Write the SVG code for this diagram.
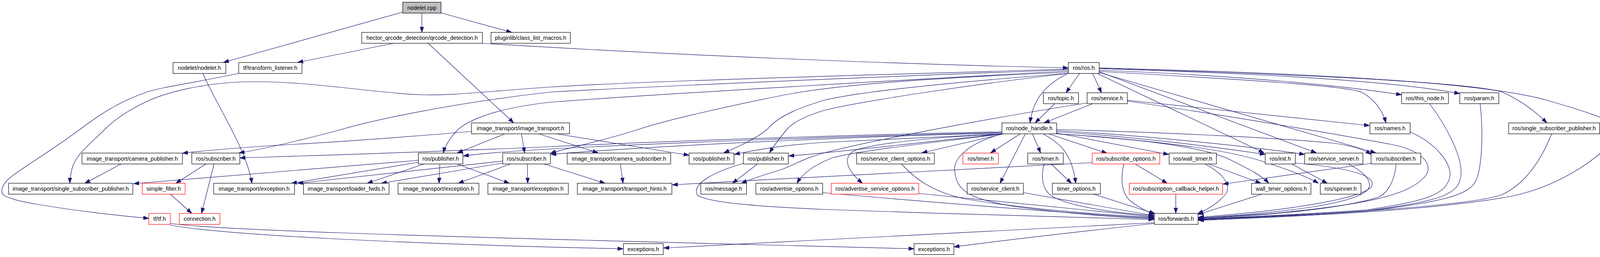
<svg xmlns="http://www.w3.org/2000/svg" width="4226" height="659" viewBox="0 0 4226 659">
<style>
html,body{margin:0;padding:0;overflow:hidden}
svg{display:block;overflow:hidden}
.n rect{fill:#fff;stroke:#000;stroke-width:1.2}
.n.r rect{stroke:#f00}
.n.root rect{fill:#bfbfbf}
.n text{font-family:"Liberation Sans",Arial,Helvetica,sans-serif;font-size:14.4px;text-anchor:middle;fill:#000}
#edges path{fill:none;stroke:#191970;stroke-width:1.2;marker-end:url(#a)}
</style>
<defs>
<marker id="a" markerWidth="15" markerHeight="11" refX="14" refY="5.5" orient="auto" markerUnits="userSpaceOnUse">
<path d="M0,0.7 L14,5.5 L0,10.3 z" fill="#191970" stroke="#191970" stroke-width="1"/>
</marker>
</defs>
<rect width="4226" height="659" fill="#fff"/>
<g id="edges">
<path d="M1031,31 L572,160"/>
<path d="M1080,34 L1080,83"/>
<path d="M1129,33 L1310,83"/>
<path d="M1008,111 L762,160"/>
<path d="M1096,111 L1315,315"/>
<path d="M1235,111 C1700,140 2300,165 2735,174"/>
<path d="M519,188 C560,280 630,380 645,470"/>
<path d="M611,188 C500,212 420,222 376,236 C300,262 250,298 207,330 C120,395 40,440 18,463 C0,482 2,498 14,503 C40,515 70,519 90,523 C200,542 300,552 381,560"/>
<path d="M2735,177 C2400,188 1700,205 1410,223 C1250,234 1150,246 1076,243 C950,238 780,205 620,210 C520,214 430,235 376,260 C330,282 295,305 270,330 C230,370 195,395 185,430 C180,450 179,460 179,470"/>
<path d="M2735,179 C2300,195 1800,215 1410,236 C1150,265 950,310 881,330 C800,352 700,378 612,392"/>
<path d="M2735,182 C2400,200 1700,240 1410,262 C1290,275 1212,300 1175,330 C1155,350 1140,370 1135,392"/>
<path d="M2735,185 C2400,200 2150,215 2000,245 C1850,275 1700,310 1640,330 C1550,360 1450,380 1409,393"/>
<path d="M2736,188 C2450,210 2200,235 2110,257 C2040,278 1990,300 1966,330 C1930,360 1880,380 1853,392"/>
<path d="M2737,188 C2500,215 2200,260 2110,283 C2060,298 2030,315 2016,330 C1995,355 1980,375 1970,392"/>
<path d="M2764,188 L2729,238"/>
<path d="M2736,187 C2680,215 2645,250 2637,315"/>
<path d="M2797,188 L2820,238"/>
<path d="M2700,266 L2650,315"/>
<path d="M2797,266 L2673,315"/>
<path d="M2783,264 C2600,292 2250,355 2110,392 C2060,405 2040,420 2000,435 C1950,450 1920,460 1898,470"/>
<path d="M2886,257 L3506,322"/>
<path d="M2886,259 C3100,290 3400,340 3560,370 C3640,385 3670,420 3650,450 C3610,500 3500,525 3250,548 C3150,555 3100,558 3068,560"/>
<path d="M2808,188 L3236,392"/>
<path d="M2814,184 L3370,392"/>
<path d="M2814,186 L3522,392"/>
<path d="M2814,180 C3200,195 3450,222 3588,243"/>
<path d="M2814,176 C3200,188 3550,205 3737,240"/>
<path d="M2814,175 C3300,190 3750,210 3843,235 C3890,255 3930,285 3960,315"/>
<path d="M2814,174 C3350,188 3800,210 3963,258 C4040,280 4100,300 4130,315"/>
<path d="M2814,183 C3200,205 3440,220 3485,236 C3520,255 3540,285 3548,315"/>
<path d="M2565,338 C2200,345 1700,362 1410,376 C1100,390 800,399 614,405"/>
<path d="M2565,340 C2200,348 1700,366 1410,382 C1300,388 1230,394 1186,400"/>
<path d="M2565,341 C2200,350 1700,372 1410,396"/>
<path d="M2565,343 C2400,352 2200,360 2110,365 C2000,372 1930,385 1880,396"/>
<path d="M2567,343 C2400,360 2200,385 2019,400"/>
<path d="M2570,343 C2400,365 2200,385 2130,405 C2080,425 2055,445 2040,470"/>
<path d="M2575,343 C2400,352 2250,365 2190,385 C2160,400 2160,430 2208,470"/>
<path d="M2570,343 L2360,392"/>
<path d="M2612,343 L2536,392"/>
<path d="M2625,343 L2560,470"/>
<path d="M2643,343 L2664,392"/>
<path d="M2670,343 C2720,370 2745,400 2754,470"/>
<path d="M2684,343 L2834,393"/>
<path d="M2705,341 L2992,396"/>
<path d="M2566,343 C2470,370 2440,410 2444,440 C2450,490 2480,510 2600,530 C2750,550 2880,558 2954,561"/>
<path d="M2705,332 C3000,340 3300,355 3420,368 C3460,374 3490,382 3510,396"/>
<path d="M2705,335 C2900,345 3200,375 3340,396"/>
<path d="M2705,338 C2900,350 3100,375 3239,396"/>
<path d="M2705,343 C2900,355 3080,375 3150,410 C3200,435 3230,450 3248,470"/>
<path d="M2705,343 C2950,360 3120,380 3220,410 C3300,435 3350,455 3375,470"/>
<path d="M310,420.5 L217,470"/>
<path d="M527,420.5 L450,470"/>
<path d="M548,420.5 L516,547"/>
<path d="M436,498 L491,547"/>
<path d="M1071,411 L342,471"/>
<path d="M1071,416 L746,470"/>
<path d="M1085,420.5 L940,470"/>
<path d="M1126,420.5 L1124,470"/>
<path d="M1170,420.5 L1304,470"/>
<path d="M1287,413 L762,470"/>
<path d="M1287,418 L976,470"/>
<path d="M1307,420.5 L1173,470"/>
<path d="M1350,420.5 L1351,470"/>
<path d="M1393,420.5 L1549,470"/>
<path d="M1588,420.5 L1595,470"/>
<path d="M1207,337 C1000,355 800,368 700,373 C600,380 520,386 467,393"/>
<path d="M1293,343 L1171,392"/>
<path d="M1335,343 L1343,392"/>
<path d="M1379,343 L1531,392"/>
<path d="M1423,343 L1764,398"/>
<path d="M1939,420.5 L1875,470"/>
<path d="M1903,419 C1830,440 1770,470 1785,500 C1810,520 1950,530 2110,537 C2400,548 2800,558 2954,563"/>
<path d="M2796,417 C2500,435 2100,452 1721,474"/>
<path d="M2106,494 C2400,520 2800,552 2954,559"/>
<path d="M2352,496 C2600,520 2850,545 2954,556"/>
<path d="M2308,421 C2340,455 2380,490 2470,510 C2650,540 2850,552 2954,557"/>
<path d="M2620,494 L2954,553"/>
<path d="M2800,498 L2957,548"/>
<path d="M2691,420.5 L2743,470"/>
<path d="M2673,420.5 C2665,450 2665,490 2700,507 C2760,535 2880,548 2955,553"/>
<path d="M2906,420.5 L2988,470"/>
<path d="M2877,420.5 C2868,460 2870,500 2900,520 C2915,530 2930,540 2955,550"/>
<path d="M3010,498 L3010,547"/>
<path d="M3094,420.5 L3228,470"/>
<path d="M3085,420.5 C3130,445 3150,470 3140,495 C3120,520 3095,535 3066,548"/>
<path d="M3230,498 L3067,550"/>
<path d="M3510,419 L3131,472"/>
<path d="M3307,420.5 L3398,470"/>
<path d="M3316,418 C3450,430 3530,450 3510,480 C3480,510 3300,540 3068,557"/>
<path d="M3452,420.5 C3490,440 3510,460 3505,480 C3490,520 3300,545 3068,559"/>
<path d="M3574,420.5 C3572,450 3560,490 3530,505 C3420,540 3200,555 3068,559"/>
<path d="M3610,338 C3680,370 3715,420 3712,450 C3705,500 3650,515 3500,538 C3300,552 3150,558 3068,561"/>
<path d="M3660,266 C3700,320 3745,400 3740,450 C3735,495 3700,515 3500,540 C3300,554 3150,559 3068,562"/>
<path d="M3789,266 C3797,330 3795,420 3780,460 C3765,495 3720,515 3500,541 C3300,556 3150,560 3068,563"/>
<path d="M3972,343 C3950,400 3910,470 3843,500 C3750,530 3400,548 3068,564"/>
<path d="M4150,343 C4080,420 3980,480 3870,503 C3700,535 3400,552 3068,565"/>
<path d="M2955,571 C2700,585 2200,610 1699,636"/>
<path d="M2955,573 C2800,590 2600,612 2442,633"/>
<path d="M436,577 C550,600 1000,625 1595,638"/>
<path d="M436,573 C560,590 1100,605 1500,616 C1900,627 2200,633 2340,638"/>
</g>
<g id="n0" class="n root"><rect x="1031" y="5.7" width="98" height="28"/><text x="1080" y="24.7">nodelet.cpp</text></g>
<g id="n1" class="n"><rect x="926" y="83" width="309" height="28"/><text x="1080.5" y="102">hector_qrcode_detection/qrcode_detection.h</text></g>
<g id="n2" class="n"><rect x="1257" y="83" width="203" height="28"/><text x="1358.5" y="102">pluginlib/class_list_macros.h</text></g>
<g id="n3" class="n"><rect x="443" y="160.4" width="135" height="28"/><text x="510.5" y="179.4">nodelet/nodelet.h</text></g>
<g id="n4" class="n"><rect x="611" y="160.4" width="162" height="28"/><text x="692" y="179.4">tf/transform_listener.h</text></g>
<g id="n5" class="n"><rect x="2735" y="160.4" width="79" height="28"/><text x="2774.5" y="179.4">ros/ros.h</text></g>
<g id="n6" class="n"><rect x="2671" y="237.8" width="90" height="28"/><text x="2716" y="256.8">ros/topic.h</text></g>
<g id="n7" class="n"><rect x="2783" y="237.8" width="103" height="28"/><text x="2834.5" y="256.8">ros/service.h</text></g>
<g id="n8" class="n"><rect x="3588" y="237.8" width="120" height="28"/><text x="3648" y="256.8">ros/this_node.h</text></g>
<g id="n9" class="n"><rect x="3737" y="237.8" width="100" height="28"/><text x="3787" y="256.8">ros/param.h</text></g>
<g id="n10" class="n"><rect x="1207" y="315.2" width="251" height="28"/><text x="1332.5" y="334.2">image_transport/image_transport.h</text></g>
<g id="n11" class="n"><rect x="2565" y="315.2" width="140" height="28"/><text x="2635" y="334.2">ros/node_handle.h</text></g>
<g id="n12" class="n"><rect x="3507" y="315.2" width="103" height="28"/><text x="3558.5" y="334.2">ros/names.h</text></g>
<g id="n13" class="n"><rect x="3862" y="315.2" width="233" height="28"/><text x="3978.5" y="334.2">ros/single_subscriber_publisher.h</text></g>
<g id="n14" class="n"><rect x="4116" y="315.2" width="103" height="28"/><text x="4167.5" y="334.2">ros/master.h</text></g>
<g id="n15" class="n"><rect x="210" y="392.5" width="257" height="28"/><text x="338.5" y="411.5">image_transport/camera_publisher.h</text></g>
<g id="n16" class="n"><rect x="491" y="392.5" width="123" height="28"/><text x="552.5" y="411.5">ros/subscriber.h</text></g>
<g id="n17" class="n"><rect x="1071" y="392.5" width="114" height="28"/><text x="1128" y="411.5">ros/publisher.h</text></g>
<g id="n18" class="n"><rect x="1287" y="392.5" width="122" height="28"/><text x="1348" y="411.5">ros/subscriber.h</text></g>
<g id="n19" class="n"><rect x="1452" y="392.5" width="265" height="28"/><text x="1584.5" y="411.5">image_transport/camera_subscriber.h</text></g>
<g id="n20" class="n"><rect x="1764" y="392.5" width="115" height="28"/><text x="1821.5" y="411.5">ros/publisher.h</text></g>
<g id="n21" class="n"><rect x="1903" y="392.5" width="115" height="28"/><text x="1960.5" y="411.5">ros/publisher.h</text></g>
<g id="n22" class="n"><rect x="2193" y="392.5" width="199" height="28"/><text x="2292.5" y="411.5">ros/service_client_options.h</text></g>
<g id="n23" class="n r"><rect x="2465" y="392.5" width="91" height="28"/><text x="2510.5" y="411.5">ros/timer.h</text></g>
<g id="n24" class="n"><rect x="2631" y="392.5" width="91" height="28"/><text x="2676.5" y="411.5">ros/timer.h</text></g>
<g id="n25" class="n r"><rect x="2796" y="392.5" width="173" height="28"/><text x="2882.5" y="411.5">ros/subscribe_options.h</text></g>
<g id="n26" class="n"><rect x="2993" y="392.5" width="121" height="28"/><text x="3053.5" y="411.5">ros/wall_timer.h</text></g>
<g id="n27" class="n"><rect x="3239" y="392.5" width="77" height="28"/><text x="3277.5" y="411.5">ros/init.h</text></g>
<g id="n28" class="n"><rect x="3340" y="392.5" width="149" height="28"/><text x="3414.5" y="411.5">ros/service_server.h</text></g>
<g id="n29" class="n"><rect x="3510" y="392.5" width="127" height="28"/><text x="3573.5" y="411.5">ros/subscriber.h</text></g>
<g id="n30" class="n"><rect x="22" y="469.9" width="318" height="28"/><text x="181" y="488.9">image_transport/single_subscriber_publisher.h</text></g>
<g id="n31" class="n r"><rect x="364" y="469.9" width="110" height="28"/><text x="419" y="488.9">simple_filter.h</text></g>
<g id="n32" class="n"><rect x="547" y="469.9" width="207" height="28"/><text x="650.5" y="488.9">image_transport/exception.h</text></g>
<g id="n33" class="n"><rect x="777" y="469.9" width="219" height="28"/><text x="886.5" y="488.9">image_transport/loader_fwds.h</text></g>
<g id="n34" class="n"><rect x="1019" y="469.9" width="207" height="28"/><text x="1122.5" y="488.9">image_transport/exception.h</text></g>
<g id="n35" class="n"><rect x="1249" y="469.9" width="206" height="28"/><text x="1352" y="488.9">image_transport/exception.h</text></g>
<g id="n36" class="n"><rect x="1478" y="469.9" width="242" height="28"/><text x="1599" y="488.9">image_transport/transport_hints.h</text></g>
<g id="n37" class="n"><rect x="1794" y="469.9" width="117" height="28"/><text x="1852.5" y="488.9">ros/message.h</text></g>
<g id="n38" class="n"><rect x="1935" y="469.9" width="171" height="28"/><text x="2020.5" y="488.9">ros/advertise_options.h</text></g>
<g id="n39" class="n r"><rect x="2128" y="469.9" width="224" height="28"/><text x="2240" y="488.9">ros/advertise_service_options.h</text></g>
<g id="n40" class="n"><rect x="2476" y="469.9" width="144" height="28"/><text x="2548" y="488.9">ros/service_client.h</text></g>
<g id="n41" class="n"><rect x="2694" y="469.9" width="123" height="28"/><text x="2755.5" y="488.9">timer_options.h</text></g>
<g id="n42" class="n r"><rect x="2891" y="469.9" width="239" height="28"/><text x="3010.5" y="488.9">ros/subscription_callback_helper.h</text></g>
<g id="n43" class="n"><rect x="3204" y="469.9" width="152" height="28"/><text x="3280" y="488.9">wall_timer_options.h</text></g>
<g id="n44" class="n"><rect x="3380" y="469.9" width="104" height="28"/><text x="3432" y="488.9">ros/spinner.h</text></g>
<g id="n45" class="n r"><rect x="381" y="547.3" width="55" height="28"/><text x="408.5" y="566.3">tf/tf.h</text></g>
<g id="n46" class="n r"><rect x="459" y="547.3" width="104" height="28"/><text x="511" y="566.3">connection.h</text></g>
<g id="n47" class="n"><rect x="2955" y="547.3" width="112" height="28"/><text x="3011" y="566.3">ros/forwards.h</text></g>
<g id="n48" class="n"><rect x="1596" y="624.7" width="102" height="28"/><text x="1647" y="643.7">exceptions.h</text></g>
<g id="n49" class="n"><rect x="2340" y="624.7" width="102" height="28"/><text x="2391" y="643.7">exceptions.h</text></g>
</svg>
